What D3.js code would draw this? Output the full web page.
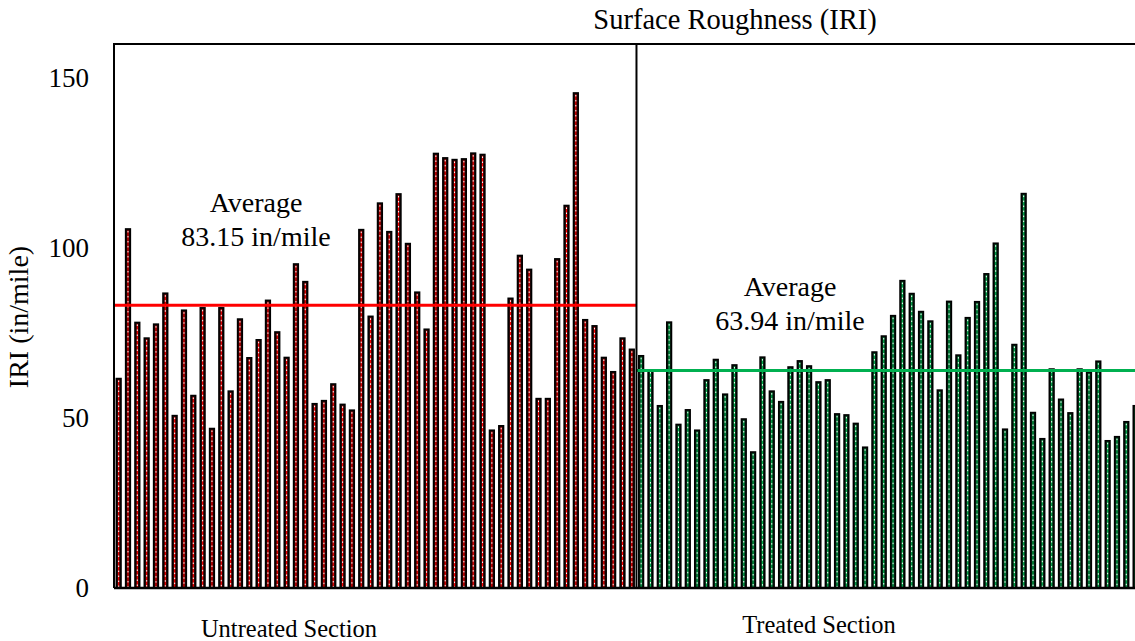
<!DOCTYPE html>
<html>
<head>
<meta charset="utf-8">
<script src="https://cdn.jsdelivr.net/npm/d3@7"></script>
<style>
  html, body { margin: 0; padding: 0; background: #fff; }
  svg { display: block; font-family: "Liberation Serif", "Times New Roman", serif; }
</style>
</head>
<body>
<svg id="chart" width="1135" height="641"></svg>
<script>
// ---- data ----
const sections = ["Untreated Section", "Treated Section"];
const untreatedIRI = [61.6, 105.6, 78.1, 73.5, 77.6, 86.7, 50.7, 81.7, 56.6, 82.4,
  46.9, 82.4, 57.9, 79.1, 67.7, 73.0, 84.6, 75.3, 67.8, 95.3,
  90.1, 54.2, 55.1, 60.0, 54.0, 52.3, 105.4, 79.9, 113.2, 104.8,
  115.9, 101.3, 87.0, 76.1, 127.8, 126.5, 126.0, 126.2, 127.9, 127.5,
  46.4, 47.7, 85.2, 97.8, 93.7, 55.7, 55.7, 96.8, 112.5, 145.6,
  78.9, 77.1, 67.8, 63.6, 73.5, 70.2];
const treatedIRI = [68.3, 64.1, 53.6, 78.2, 48.1, 52.4, 46.4, 61.2, 67.2, 57.0,
  65.6, 49.7, 40.0, 67.9, 57.9, 54.8, 65.0, 66.8, 65.3, 60.6,
  61.2, 51.2, 50.9, 48.4, 41.4, 69.4, 74.1, 80.1, 90.4, 86.6,
  81.3, 78.5, 58.2, 84.3, 68.5, 79.5, 84.2, 92.4, 101.4, 46.7,
  71.6, 116.0, 51.6, 43.9, 64.4, 55.5, 51.5, 64.4, 63.5, 66.7,
  43.3, 44.5, 48.9, 53.6];
const averages = [83.15, 63.94];
const averageLabels = ["83.15 in/mile", "63.94 in/mile"];
const yTicks = [0, 50, 100, 150];
const title = "Surface Roughness (IRI)";
const yTitle = "IRI (in/mile)";

// ---- layout ----
const svg = d3.select("#chart");
const mLeft = 114, mTop = 44, mBottom = 588, mRight = 1135;
const nTotal = 110; // slots across the full (cropped) plot width
const step = 9.33;

const records = untreatedIRI.map((v, i) => ({ i, v, s: 0 }))
  .concat(treatedIRI.map((v, j) => ({ i: untreatedIRI.length + j, v, s: 1 })));

const x = d3.scaleBand()
  .domain(d3.range(nTotal))
  .range([mLeft, mLeft + nTotal * step])
  .paddingInner(0.5)
  .paddingOuter(0.25);
const y = d3.scaleLinear().domain([0, 160]).range([mBottom, mTop]);

const divX = x(untreatedIRI.length) - x.step() * 0.25;
const colors = ["#ff0000", "#00b050"];
const fills = ["#2a0606", "#062a14"];

// bars
const bw = x.bandwidth();
const g = svg.append("g");
const bars = g.selectAll("g.bar").data(records).join("g").attr("class", "bar");
bars.append("rect")
  .attr("x", d => x(d.i))
  .attr("y", d => y(d.v))
  .attr("width", bw)
  .attr("height", d => y(0) - y(d.v))
  .attr("fill", d => fills[d.s])
  .attr("stroke", "#000")
  .attr("stroke-width", 1.6);
bars.append("line")
  .attr("x1", d => x(d.i) + bw / 2).attr("x2", d => x(d.i) + bw / 2)
  .attr("y1", d => y(d.v) + 1.5).attr("y2", y(0))
  .attr("stroke", d => colors[d.s])
  .attr("stroke-width", 1.1);
bars.append("line")
  .attr("x1", d => x(d.i) + bw / 2).attr("x2", d => x(d.i) + bw / 2)
  .attr("y1", d => y(d.v) + 2).attr("y2", y(0))
  .attr("stroke", "#fff")
  .attr("stroke-width", 1)
  .attr("stroke-dasharray", "1.5,3.5");

// average lines
const segs = [[mLeft, divX], [divX, mRight]];
svg.selectAll("line.avg").data(averages).join("line")
  .attr("class", "avg")
  .attr("x1", (d, k) => segs[k][0]).attr("x2", (d, k) => segs[k][1])
  .attr("y1", d => y(d)).attr("y2", d => y(d))
  .attr("stroke", (d, k) => colors[k])
  .attr("stroke-width", 3);

// frame
svg.append("line").attr("x1", mLeft).attr("x2", mRight).attr("y1", mTop).attr("y2", mTop)
  .attr("stroke", "#000").attr("stroke-width", 2);
svg.append("line").attr("x1", mLeft).attr("x2", mRight).attr("y1", mBottom).attr("y2", mBottom)
  .attr("stroke", "#000").attr("stroke-width", 2.5);
svg.append("line").attr("x1", mLeft).attr("x2", mLeft).attr("y1", mTop - 1).attr("y2", mBottom)
  .attr("stroke", "#000").attr("stroke-width", 2);
svg.append("line").attr("x1", divX).attr("x2", divX).attr("y1", mTop).attr("y2", mBottom)
  .attr("stroke", "#000").attr("stroke-width", 2);

// y axis tick labels (no tick marks)
const yAxis = d3.axisLeft(y).tickValues(yTicks).tickSize(0).tickPadding(25);
const ya = svg.append("g").attr("transform", `translate(${mLeft},0)`).call(yAxis);
ya.select(".domain").remove();
ya.selectAll("text").attr("font-family", "Liberation Serif").attr("font-size", 27).attr("fill", "#000");

// y title
svg.append("text")
  .attr("transform", `translate(28,317) rotate(-90)`)
  .attr("text-anchor", "middle")
  .attr("font-size", 28)
  .text(yTitle);

// title
svg.append("text").attr("x", 735).attr("y", 29)
  .attr("text-anchor", "middle").attr("font-size", 28.5).text(title);

// section labels
const secCenters = [289, 819];
const secBase = [637, 633];
svg.selectAll("text.sec").data(sections).join("text")
  .attr("class", "sec")
  .attr("x", (d, k) => secCenters[k]).attr("y", (d, k) => secBase[k])
  .attr("text-anchor", "middle").attr("font-size", 24.5).text(d => d);

// average annotations
const annX = [256, 790];
const annY = [212, 296];
averages.forEach((a, k) => {
  svg.append("text").attr("x", annX[k]).attr("y", annY[k])
    .attr("text-anchor", "middle").attr("font-size", 28).text("Average");
  svg.append("text").attr("x", annX[k]).attr("y", annY[k] + 34)
    .attr("text-anchor", "middle").attr("font-size", 28).text(averageLabels[k]);
});
</script>
</body>
</html>
